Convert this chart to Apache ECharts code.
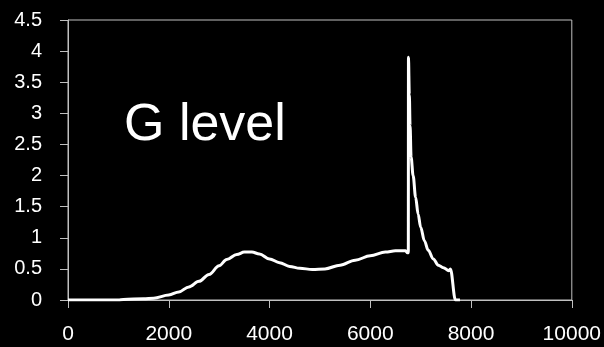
<!DOCTYPE html>
<html>
<head>
<meta charset="utf-8">
<script src="https://cdn.jsdelivr.net/npm/echarts@6/dist/echarts.min.js"></script>
<style>
html,body{margin:0;padding:0;background:#000;}
#chart{width:604px;height:347px;}
</style>
</head>
<body>
<div id="chart"></div>
<script>
const xValues = [0, 500, 1000, 1100, 1500, 1700, 2000, 2200, 2400, 2600, 2800, 3000, 3150, 3350, 3500, 3650, 3800, 4000, 4200, 4400, 4600, 4850, 5100, 5400, 5700, 6000, 6300, 6500, 6700, 6740, 6755, 6758, 6775, 6790, 6810, 6850, 6900, 6950, 7000, 7075, 7150, 7250, 7350, 7450, 7560, 7590, 7690, 7780];
const gValues = [0, 0, 0, 0.01, 0.02, 0.03, 0.08, 0.13, 0.21, 0.30, 0.41, 0.55, 0.65, 0.73, 0.77, 0.77, 0.74, 0.66, 0.60, 0.54, 0.51, 0.49, 0.50, 0.56, 0.64, 0.71, 0.77, 0.79, 0.79, 0.76, 0.76, 3.90, 3.30, 2.80, 2.30, 2.00, 1.65, 1.38, 1.17, 0.95, 0.80, 0.66, 0.56, 0.52, 0.47, 0.50, 0, 0];
const xTicks = [0, 2000, 4000, 6000, 8000, 10000];
const yTicks = [0, 0.5, 1, 1.5, 2, 2.5, 3, 3.5, 4, 4.5];
const labelText = 'G level';

const chart = echarts.init(document.getElementById('chart'));
const axisColor = '#c0c0c0';
chart.setOption({
  backgroundColor: '#000',
  animation: false,
  grid: {left: 68, right: 27, top: 20, bottom: 47, show: true, borderColor: axisColor, borderWidth: 1},
  graphic: [{
    type: 'text', left: 124, top: 100,
    style: {text: labelText, fill: '#fff', font: '52px "Liberation Sans", Arial, sans-serif'}
  }],
  xAxis: {
    type: 'value', min: xTicks[0], max: xTicks[xTicks.length - 1], interval: 2000,
    axisLine: {show: true, lineStyle: {color: axisColor, width: 1}},
    axisTick: {show: true, length: 8, lineStyle: {color: axisColor}},
    splitLine: {show: false},
    axisLabel: {color: '#fff', fontSize: 21, fontFamily: '"Liberation Sans", Arial, sans-serif', margin: 24,
      formatter: v => String(v)}
  },
  yAxis: {
    type: 'value', min: yTicks[0], max: yTicks[yTicks.length - 1], interval: 0.5,
    axisLine: {show: true, lineStyle: {color: axisColor, width: 1}},
    axisTick: {show: true, length: 8, lineStyle: {color: axisColor}},
    splitLine: {show: false},
    axisLabel: {color: '#fff', fontSize: 20, fontFamily: '"Liberation Sans", Arial, sans-serif', margin: 26,
      formatter: v => String(v)}
  },
  series: [{
    type: 'line',
    data: xValues.map((x, i) => [x, gValues[i]]),
    showSymbol: false,
    lineStyle: {color: '#fff', width: 3},
    smooth: 0.35,
    smoothMonotone: 'x'
  }]
});
</script>
</body>
</html>
